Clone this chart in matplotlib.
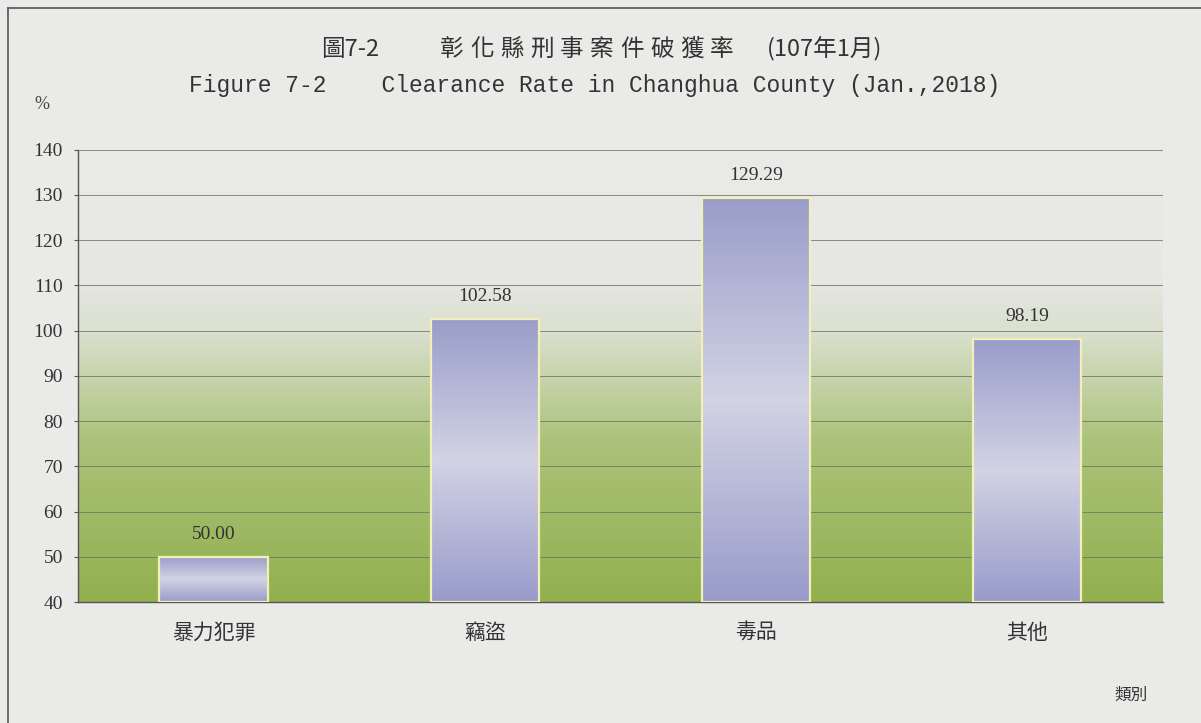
import numpy as np
import matplotlib.pyplot as plt
from matplotlib.colors import LinearSegmentedColormap

categories = ['暴力犯罪', '竊盜', '毒品', '其他']
rates = [50.00, 102.58, 129.29, 98.19]
yticks = [40, 50, 60, 70, 80, 90, 100, 110, 120, 130, 140]

cjk = ['Noto Sans CJK TC', 'DejaVu Sans']
serif = ['Liberation Serif', 'DejaVu Serif']

fig = plt.figure(figsize=(12.01, 7.23), dpi=100)
fig.patch.set_facecolor('#eaeae8')

# frame round the chart
fig.add_artist(plt.Line2D([0.007, 1.0], [0.989, 0.989], color='#555555', lw=1.2))
fig.add_artist(plt.Line2D([0.007, 0.007], [0.0, 0.989], color='#555555', lw=1.2))

ax = fig.add_axes([0.065, 0.167, 0.903, 0.626])
ax.set_xlim(-0.5, 3.5)
ax.set_ylim(40, 140)

# background gradient: pale at top, green at bottom
bg = LinearSegmentedColormap.from_list('bg', [(0.0, '#92b04e'), (0.35, '#aac279'),
                                              (0.6, '#dbe0cf'), (0.72, '#e7e8e4'),
                                              (1.0, '#eaeae8')])
grad = np.linspace(0, 1, 256).reshape(-1, 1)
ax.imshow(grad, cmap=bg, origin='lower', aspect='auto',
          extent=[-0.5, 3.5, 40, 140], zorder=0)

for y in yticks:
    ax.axhline(y, color='#6d7363', lw=0.7, alpha=0.8, zorder=1)

barcm = LinearSegmentedColormap.from_list('bar', ['#989bca', '#d2d3e4', '#999dc9'])
bw = 0.4
for i, v in enumerate(rates):
    ax.imshow(grad, cmap=barcm, origin='lower', aspect='auto',
              extent=[i - bw / 2, i + bw / 2, 40, v], zorder=2)
    ax.bar(i, v - 40, bottom=40, width=bw, facecolor='none',
           edgecolor='#f2f0b8', lw=1.6, zorder=3)
    ax.annotate(f'{v:.2f}', (i, v), xytext=(0, 16), textcoords='offset points',
                ha='center', va='center', fontsize=14, family=serif, color='#333333')

ax.set_xlim(-0.5, 3.5)
ax.set_ylim(40, 140)
ax.set_xticks(range(len(categories)))
ax.set_xticklabels(categories, family=cjk, fontsize=15, color='#333333')
ax.set_yticks(yticks)
ax.set_yticklabels([str(t) for t in yticks], family=serif, fontsize=14, color='#333333')
ax.tick_params(axis='x', length=0, pad=14)
ax.tick_params(axis='y', length=3, pad=8, color='#555555')
for s in ['top', 'right']:
    ax.spines[s].set_visible(False)
for s in ['left', 'bottom']:
    ax.spines[s].set_color('#555555')
    ax.spines[s].set_linewidth(1.0)

# title line 1, spaced out like the printed one
fig.text(350 / 1201, 0.932, '圖7-2', ha='center', va='center', fontsize=17,
         family=cjk, color='#333333')
for k, ch in enumerate('彰化縣刑事案件破獲率'):
    fig.text((452 + 30 * k) / 1201, 0.932, ch, ha='center', va='center', fontsize=17,
             family=cjk, color='#333333')
fig.text(825 / 1201, 0.932, '(107年1月)', ha='center', va='center', fontsize=17,
         family=cjk, color='#333333')
fig.text(0.495, 0.882, 'Figure 7-2    Clearance Rate in Changhua County (Jan.,2018)',
         ha='center', va='center', fontsize=16.5, family=['Liberation Mono', 'DejaVu Sans Mono'],
         color='#333333')
fig.text(0.035, 0.856, '%', ha='center', va='center', fontsize=13, family=serif, color='#444444')
fig.text(0.942, 0.038, '類別', ha='center', va='center', fontsize=12, family=cjk, color='#333333')

fig.savefig('out.png', dpi=100, facecolor=fig.get_facecolor())
